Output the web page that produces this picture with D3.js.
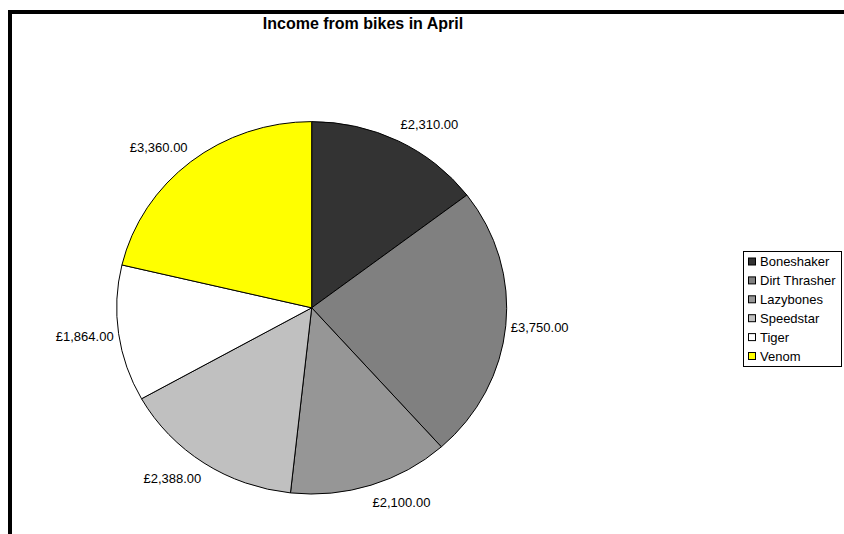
<!DOCTYPE html>
<head>
  <meta charset="utf-8">
  <style>
  body { margin: 0; background: #fff; }
  * { font-family: "Liberation Sans", Arial, sans-serif; }
  .slice { stroke: #000; stroke-width: 1px; vector-effect: non-scaling-stroke; }
  .label { font-size: 13px; fill: #000; }
  .title { font-size: 16px; font-weight: bold; }
  </style>
  <title>Income from bikes in April</title>
</head>
<body>
  <svg width="844" height="534"></svg>
  <script src="https://d3js.org/d3.v7.min.js"></script>
  <script>
  var bikes = ["Boneshaker", "Dirt Thrasher", "Lazybones", "Speedstar", "Tiger", "Venom"];
  var income = [2310, 3750, 2100, 2388, 1864, 3360];
  var colours = ["#333333", "#808080", "#969696", "#c0c0c0", "#ffffff", "#ffff00"];

  var svg = d3.select("svg");

  // outer frame, only the top and left edges are visible
  svg.append("rect")
      .attr("x", 10).attr("y", 12)
      .attr("width", 1000).attr("height", 800)
      .attr("fill", "none").attr("stroke", "#000").attr("stroke-width", 4);

  svg.append("text")
      .attr("class", "title")
      .attr("x", 363).attr("y", 29)
      .attr("text-anchor", "middle")
      .text("Income from bikes in April");

  var cx = 311.7, cy = 307.8, ry = 186.2, rx = 195;
  var data = bikes.map(function(b, i) { return {name: b, value: income[i], colour: colours[i]}; });

  var pie = d3.pie().sort(null).value(function(d) { return d.value; });
  var arc = d3.arc().innerRadius(0).outerRadius(ry);
  var arcs = pie(data);

  var g = svg.append("g")
      .attr("transform", "translate(" + cx + "," + cy + ") scale(" + (rx / ry) + ",1)");

  g.selectAll("path")
    .data(arcs)
    .enter().append("path")
      .attr("class", "slice")
      .attr("d", arc)
      .attr("fill", function(d) { return d.data.colour; });

  var fmt = d3.format(",.2f");
  var lrx = rx + 5, lry = ry + 12;

  svg.append("g").selectAll("text")
    .data(arcs)
    .enter().append("text")
      .attr("class", "label")
      .each(function(d) {
        var a = (d.startAngle + d.endAngle) / 2,
            s = Math.sin(a), c = Math.cos(a);
        d3.select(this)
            .attr("x", cx + s * lrx)
            .attr("y", cy - c * lry - c * 6)
            .attr("dy", "0.35em")
            .attr("text-anchor", s >= 0 ? "start" : "end");
      })
      .text(function(d) { return "£" + fmt(d.data.value); });

  // legend
  var legend = svg.append("g").attr("transform", "translate(743,251)");
  legend.append("rect")
      .attr("x", 0.5).attr("y", 0.5)
      .attr("width", 98).attr("height", 115)
      .attr("fill", "#fff").attr("stroke", "#000");

  var rowY = d3.scalePoint().domain(bikes).range([10.5, 105]);

  var item = legend.selectAll(".item")
    .data(data)
    .enter().append("g")
      .attr("class", "item")
      .attr("transform", function(d) { return "translate(0," + rowY(d.name) + ")"; });

  item.append("rect")
      .attr("x", 5.5).attr("y", -3.5)
      .attr("width", 7).attr("height", 7)
      .attr("fill", function(d) { return d.colour; })
      .attr("stroke", "#000");

  item.append("text")
      .attr("class", "label")
      .attr("x", 17).attr("dy", "0.35em")
      .text(function(d) { return d.name; });
  </script>
</body>
